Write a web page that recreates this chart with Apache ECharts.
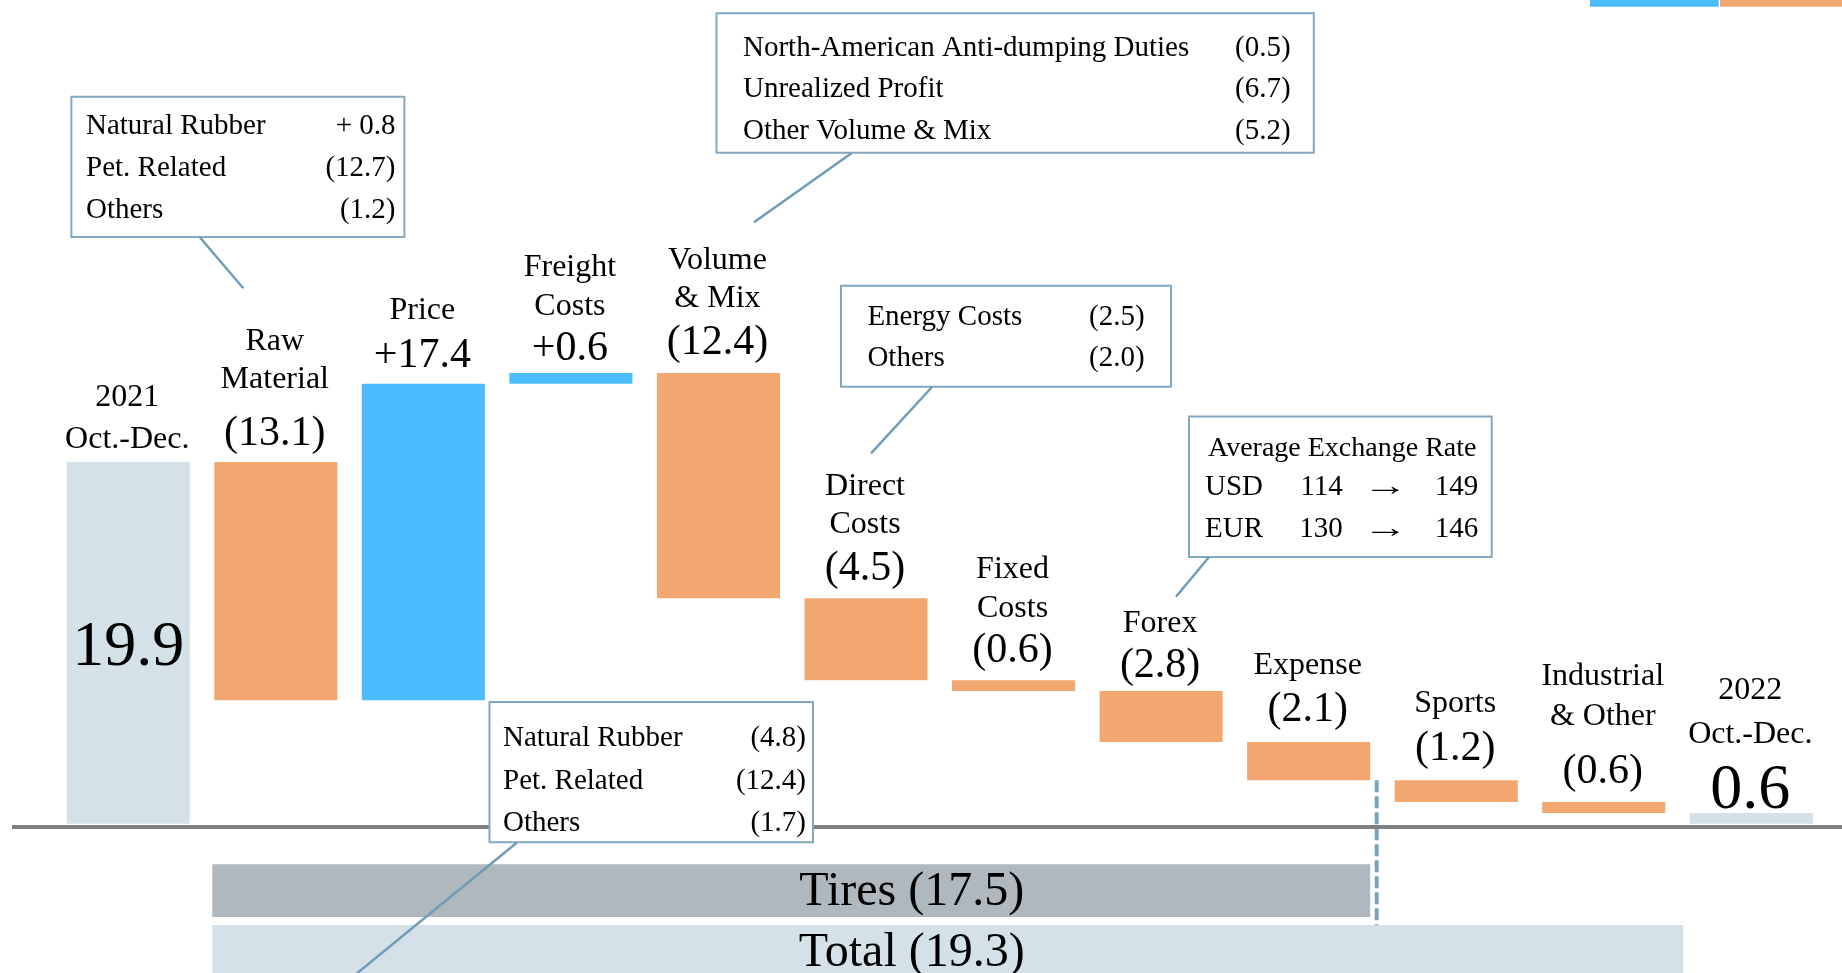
<!DOCTYPE html>
<html>
<head>
<meta charset="utf-8">
<script src="https://cdn.jsdelivr.net/npm/echarts@6/dist/echarts.min.js"></script>
<style>
  html, body { margin: 0; padding: 0; background: #ffffff; }
  #chart { width: 1842px; height: 973px; }
</style>
</head>
<body>
<div id="chart"></div>
<script>
// ---- Operating income bridge, 2021 Oct.-Dec. -> 2022 Oct.-Dec. (billion yen) ----
const categories = ['2021\nOct.-Dec.', 'Raw\nMaterial', 'Price', 'Freight\nCosts', 'Volume\n& Mix',
  'Direct\nCosts', 'Fixed\nCosts', 'Forex', 'Expense', 'Sports', 'Industrial\n& Other', '2022\nOct.-Dec.'];
const changes = [19.9, -13.1, 17.4, 0.6, -12.4, -4.5, -0.6, -2.8, -2.1, -1.2, -0.6, 0.6];
const isTotal = [true, false, false, false, false, false, false, false, false, false, false, true];

// business-segment brackets under the baseline
const segmentNames = ['Tires', 'Total'];
const segmentValues = [17.5, 19.3];
const segmentFirst = [1, 1];
const segmentLast = [8, 10];

// call-out breakdowns
const rawMaterialRows = [['Natural Rubber', '+ 0.8'], ['Pet. Related', '(12.7)'], ['Others', '(1.2)']];
const volumeMixRows = [['North-American Anti-dumping Duties', '(0.5)'], ['Unrealized Profit', '(6.7)'], ['Other Volume & Mix', '(5.2)']];
const directCostRows = [['Energy Costs', '(2.5)'], ['Others', '(2.0)']];
const exchangeRateTitle = 'Average Exchange Rate';
const exchangeRates = [['USD', 114, 149], ['EUR', 130, 146]];
const tireRawMaterialRows = [['Natural Rubber', '(4.8)'], ['Pet. Related', '(12.4)'], ['Others', '(1.7)']];

// ---- styling / layout ----
const SERIF = '"Liberation Serif", "Times New Roman", serif';
const COLOR_TOTAL = '#d4e1e8';
const COLOR_UP = '#4bbcfd';
const COLOR_DOWN = '#f1a76f';
const COLOR_TIRES = '#aeb8be';
const COLOR_FRAME = '#82a8c0';
const COLOR_LEADER = '#6f9db7';
const BAR_RATIO = 0.834;
const TEXT_DROP = 3;      // shift from glyph middle to em middle
const BOX_TEXT_DROP = 1.5;
// label placement above each bar's top edge (px)
const valueLift = [0, 31, 31, 27, 33, 32, 32, 28.5, 35, 34, 33, 25];
const nameLift = [25, 85, 76, 69, 77, 77, 75, 70, 79, 80, 88, 81];
const nameLineGap = [42, 38, 38, 39, 38.5, 38, 39, 38, 38, 38, 40, 44];

function valueText(i) {
  const v = changes[i];
  if (isTotal[i]) return v.toFixed(1);
  return v > 0 ? '+' + v.toFixed(1) : '(' + Math.abs(v).toFixed(1) + ')';
}

// running totals -> floating bars
let running = 0;
const barData = changes.map(function (v, i) {
  if (isTotal[i]) { running = v; return [i, 0, v]; }
  const lo = Math.min(running, running + v);
  const hi = Math.max(running, running + v);
  running = Math.round((running + v) * 10) / 10;
  return [i, lo, hi];
});
const runningAfter = [];
(function () {
  let r = 0;
  changes.forEach(function (v, i) { r = isTotal[i] ? v : Math.round((r + v) * 10) / 10; runningAfter.push(r); });
})();

function txt(x, y, text, size, align, family) {
  return {
    type: 'text', x: x, y: y, silent: true, z: 100,
    style: { text: text, fontSize: size, fontFamily: family || SERIF, fill: '#000', align: align || 'center', verticalAlign: 'middle' }
  };
}

function renderBar(params, api) {
  const i = api.value(0);
  const lo = api.coord([i, api.value(1)]);
  const hi = api.coord([i, api.value(2)]);
  const w = api.size([1, 0])[0] * BAR_RATIO;
  const cx = lo[0];
  const top = hi[1];
  const fill = isTotal[i] ? COLOR_TOTAL : (changes[i] > 0 ? COLOR_UP : COLOR_DOWN);
  const children = [{
    type: 'rect', silent: true,
    shape: { x: cx - w / 2, y: top, width: w, height: lo[1] - top },
    style: { fill: fill }
  }];
  const tx = cx - 1;
  const lines = categories[i].split('\n');
  const n = lines.length;
  lines.forEach(function (line, k) {
    children.push(txt(tx, top - nameLift[i] - (n - 1 - k) * nameLineGap[i] + TEXT_DROP, line, 32));
  });
  if (i === 0) {
    children.push(txt(tx + 1, (top + lo[1]) / 2 + 2 + TEXT_DROP, valueText(i), 64));
  } else if (isTotal[i]) {
    children.push(txt(tx, top - valueLift[i] + TEXT_DROP, valueText(i), 64));
  } else {
    children.push(txt(tx, top - valueLift[i] + TEXT_DROP, valueText(i), 42));
  }
  return { type: 'group', children: children };
}

// bracket bands under the baseline
const bandRows = [{ top: 40.5, height: 52.7 }, { top: 101.2, height: 80 }];
const bandExtendRight = [0, 18];
const bandFill = [COLOR_TIRES, COLOR_TOTAL];
const BAND_LABEL_AT = 5.31;
function renderBand(params, api) {
  const s = params.dataIndex;
  const w = api.size([1, 0])[0] * BAR_RATIO;
  const zeroY = api.coord([0, 0])[1];
  const x0 = api.coord([segmentFirst[s], 0])[0] - w / 2 - 2;
  const x1 = api.coord([segmentLast[s], 0])[0] + w / 2 + bandExtendRight[s];
  const y0 = zeroY + bandRows[s].top;
  const children = [{
    type: 'rect', silent: true,
    shape: { x: x0, y: y0, width: x1 - x0, height: bandRows[s].height },
    style: { fill: bandFill[s] }
  }];
  const lx = api.coord([BAND_LABEL_AT, 0])[0];
  children.push(txt(lx, y0 + 25 + TEXT_DROP, segmentNames[s] + ' (' + segmentValues[s].toFixed(1) + ')', 48));
  if (s === 0) {
    // divider between the tire items and the other businesses
    const endTop = api.coord([segmentLast[s], runningAfter[segmentLast[s]]])[1];
    const dx = x1 + 6.5;
    children.push({
      type: 'line', silent: true,
      shape: { x1: dx, y1: endTop, x2: dx, y2: zeroY + bandRows[1].top },
      style: { stroke: '#7ba3bb', lineWidth: 4, lineDash: [12, 4] }
    });
  }
  return { type: 'group', children: children };
}

function renderBaseline(params, api) {
  const cs = params.coordSys;
  const y = api.coord([0, 0])[1] + 3.2;
  return {
    type: 'line', silent: true,
    shape: { x1: cs.x, y1: y, x2: cs.x + cs.width, y2: y },
    style: { stroke: '#808080', lineWidth: 4 }
  };
}

// ---- call-out boxes ----
function frame(x, y, w, h) {
  return { type: 'rect', z: 100, shape: { x: x, y: y, width: w, height: h }, style: { fill: '#fff', stroke: COLOR_FRAME, lineWidth: 2 } };
}
function leader(x1, y1, x2, y2) {
  return { type: 'line', z: 100, shape: { x1: x1, y1: y1, x2: x2, y2: y2 }, style: { stroke: COLOR_LEADER, lineWidth: 2.5 } };
}
function rowsBox(rows, box, left, right, rowY) {
  const els = [frame(box[0], box[1], box[2], box[3])];
  rows.forEach(function (r, k) {
    els.push(txt(left, rowY[k] + BOX_TEXT_DROP, r[0], 29, 'left'));
    els.push(txt(right, rowY[k] + BOX_TEXT_DROP, r[1], 29, 'right'));
  });
  return els;
}
function arrow(x, y) {
  const t = txt(x, y, '\u2192', 29, 'center');
  t.scaleX = 1.55;
  return t;
}

const fxRowY = [486, 527.7];
const calloutEls = [].concat(
  rowsBox(rawMaterialRows, [71.4, 96.7, 333, 140.3], 86, 395.5, [125, 167, 209]),
  [leader(200, 237.5, 243.3, 288.3)],
  rowsBox(volumeMixRows, [716.5, 13.3, 597.3, 139.4], 743, 1290.6, [46.7, 88.3, 130]),
  [leader(851.8, 153, 754, 222.3)],
  rowsBox(directCostRows, [841, 285.7, 330, 101], 867.4, 1144.6, [316, 357.3]),
  [leader(932, 387, 871, 453.3)],
  [frame(1189, 416.5, 302.7, 140.5), txt(1208, 446.7 + BOX_TEXT_DROP, exchangeRateTitle, 28, 'left')],
  exchangeRates.map(function (r, k) { return txt(1205, fxRowY[k] + BOX_TEXT_DROP, r[0], 29, 'left'); }),
  exchangeRates.map(function (r, k) { return txt(1342.7, fxRowY[k] + BOX_TEXT_DROP, String(r[1]), 29, 'right'); }),
  exchangeRates.map(function (r, k) { return arrow(1385.5, fxRowY[k] + BOX_TEXT_DROP); }),
  exchangeRates.map(function (r, k) { return txt(1478.3, fxRowY[k] + BOX_TEXT_DROP, String(r[2]), 29, 'right'); }),
  [leader(1209, 557, 1176, 596.7)],
  rowsBox(tireRawMaterialRows, [489.5, 702, 323.5, 140.3], 503, 806, [736.7, 780, 821.7]),
  [leader(517, 842.5, 350, 979)],
  [
    { type: 'rect', z: 100, shape: { x: 1590, y: 0, width: 128.7, height: 6.7 }, style: { fill: COLOR_UP } },
    { type: 'rect', z: 100, shape: { x: 1720, y: 0, width: 122, height: 6.7 }, style: { fill: COLOR_DOWN } }
  ]
);

const chart = echarts.init(document.getElementById('chart'), null, { renderer: 'canvas' });
chart.setOption({
  animation: false,
  backgroundColor: '#ffffff',
  grid: { left: 12, right: 0, top: 0, bottom: 0 },
  xAxis: { type: 'value', min: -0.788, max: 11.6146, show: false },
  yAxis: { type: 'value', min: -8.207, max: 45.314, show: false },
  series: [
    { type: 'custom', name: 'bands', data: segmentNames.map(function (n, s) { return [segmentFirst[s], 0]; }), renderItem: renderBand, silent: true, z: 1 },
    { type: 'custom', name: 'baseline', data: [[0, 0]], renderItem: renderBaseline, silent: true, z: 2 },
    { type: 'custom', name: 'bridge', data: barData, renderItem: renderBar, silent: true, z: 3 }
  ],
  graphic: { elements: [{ type: 'group', z: 100, zlevel: 1, silent: true, children: calloutEls }] }
});
</script>
</body>
</html>
